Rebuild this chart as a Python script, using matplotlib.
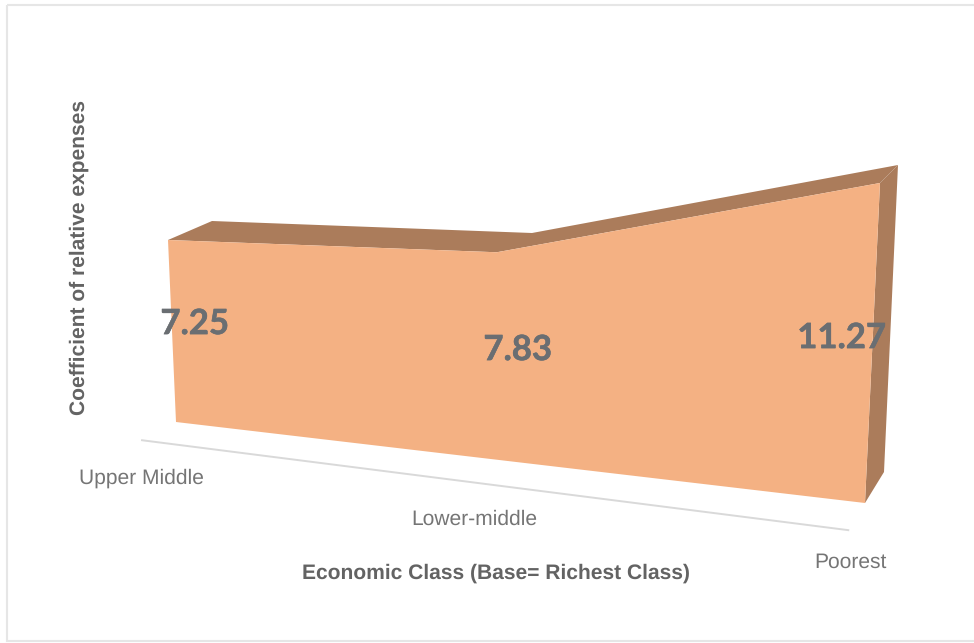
"""3D-looking area chart of relative expense coefficients by economic class."""

import numpy as np
import matplotlib
matplotlib.use("Agg")
import matplotlib.pyplot as plt
import matplotlib.patheffects as pe
from matplotlib.patches import Polygon, Rectangle
from matplotlib.transforms import Transform

plt.rcParams["text.hinting"] = "no_hinting"
plt.rcParams["text.hinting_factor"] = 1

# Data
CATEGORIES = ["Upper Middle", "Lower-middle", "Poorest"]
CATEGORY_X = [0, 0.99, 2]
VALUES = [7.25, 7.83, 11.27]

# Colours
FRONT_COLOR = "#F4B183"
SIDE_COLOR = "#AB7C5B"
LABEL_COLOR = "#6A6E72"
TEXT_COLOR = "#757575"
TITLE_COLOR = "#636363"

# Where the chart's corners land on the image, (category, value) -> (px, py)
FRONT_FIT = [((0, 0), (176, 422)), ((2, 0), (865, 503)),
             ((0, 7.25), (168, 240)), ((2, 11.27), (880, 183))]
BACK_FIT = [((0, 7.25), (212, 221)), ((2, 0), (884, 472)),
            ((0.99, 7.83), (532, 233)), ((2, 11.27), (898, 165))]


def fit_homography(pairs):
    """Solve the 3x3 perspective matrix from point pairs."""
    rows = []
    for (x, y), (u, v) in pairs:
        rows.append([x, y, 1, 0, 0, 0, -u * x, -u * y, -u])
        rows.append([0, 0, 0, x, y, 1, -v * x, -v * y, -v])
    return np.linalg.svd(np.array(rows, dtype=float))[2][-1].reshape(3, 3)


class Perspective(Transform):
    input_dims = 2
    output_dims = 2

    def __init__(self, matrix):
        super().__init__()
        self.matrix = matrix

    def transform_non_affine(self, values):
        values = np.asarray(values, dtype=float)
        full = np.column_stack([values, np.ones(len(values))]) @ self.matrix.T
        return full[:, :2] / full[:, 2:]


fig = plt.figure(figsize=(9.74, 6.43), dpi=100)
ax = fig.add_axes([0, 0, 1, 1])
ax.set_xlim(0, 974)
ax.set_ylim(643, 0)
ax.axis("off")

front = Perspective(fit_homography(FRONT_FIT)) + ax.transData
back = Perspective(fit_homography(BACK_FIT)) + ax.transData
to_pixels = lambda tr, pts: ax.transData.inverted().transform(tr.transform(pts))

# Outer frame
ax.add_patch(Rectangle((7, 5), 975, 636, fill=False, edgecolor="#E6E6E6", linewidth=1.5))

# Category axis line, just in front of the area
ax.plot([-0.115, 1.96], [-0.92, -1.07], color="#D9D9D9", linewidth=1.4, transform=front)

tops = np.column_stack([CATEGORY_X, VALUES])
front_tops = to_pixels(front, tops)
back_tops = to_pixels(back, tops)
front_foot = to_pixels(front, [[CATEGORY_X[-1], 0]])
back_foot = to_pixels(back, [[CATEGORY_X[-1], 0]])

# Top and side faces
ax.add_patch(Polygon(np.vstack([front_tops, back_tops[::-1]]), color=SIDE_COLOR, linewidth=0))
ax.add_patch(Polygon(np.vstack([front_tops[-1:], back_tops[-1:], back_foot, front_foot]),
                     color=SIDE_COLOR, linewidth=0))

# Front face
outline = np.vstack([[[CATEGORY_X[0], 0]], tops, [[CATEGORY_X[-1], 0]]])
ax.add_patch(Polygon(to_pixels(front, outline), color=FRONT_COLOR, linewidth=0))

# Data labels
LABEL_POS = [(195, 324), (518, 350), (842, 338)]
for value, (px, py) in zip(VALUES, LABEL_POS):
    ax.text(px, py, f"{value:.2f}", ha="center", va="center", fontsize=25,
            fontweight="bold", family="Lato", color=LABEL_COLOR,
            path_effects=[pe.withStroke(linewidth=0.4, foreground=LABEL_COLOR)])

# Category labels
CATEGORY_POS = [(141, 478), (474, 519), (850, 562)]
for name, (px, py) in zip(CATEGORIES, CATEGORY_POS):
    ax.text(px, py, name, ha="center", va="center", fontsize=14.9,
            family="Liberation Sans", color=TEXT_COLOR)

# Axis titles
ax.text(496, 573, "Economic Class (Base= Richest Class)", ha="center", va="center",
        fontsize=15.2, fontweight="bold", family="Liberation Sans", color=TITLE_COLOR)
ax.text(79, 257, "Coefficient of relative expenses", ha="center", va="center", rotation=90,
        fontsize=15.2, fontweight="bold", family="Liberation Sans", color=TITLE_COLOR)

fig.savefig("out.png", dpi=100, facecolor="white")
